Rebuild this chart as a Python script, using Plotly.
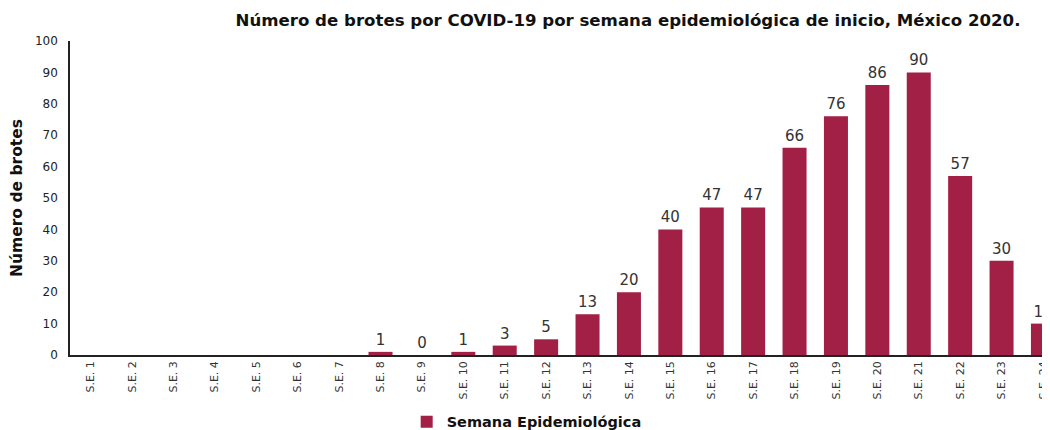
import plotly.graph_objects as go

semanas = [f"S.E. {i}" for i in range(1, 25)]
brotes = [None, None, None, None, None, None, None, 1, 0, 1, 3, 5, 13, 20, 40, 47, 47, 66, 76, 86, 90, 57, 30, 10]
etiquetas = ["" if v is None else str(v) for v in brotes]

FONT = "DejaVu Sans"
COLOR = "#A21F45"

fig = go.Figure()
fig.add_trace(go.Bar(
    x=semanas, y=[0 if v is None else v for v in brotes],
    name="Semana Epidemiológica",
    marker=dict(color=COLOR, line=dict(width=0)),
    text=etiquetas, textposition="outside", cliponaxis=False,
    textfont=dict(family=FONT, size=15, color="#333333"),
))

# page has an 8px body margin, so the figure is sized to fill the window exactly
fig.update_layout(
    width=1042, height=422,
    margin=dict(l=62, r=0, t=33, b=75, autoexpand=False),
    paper_bgcolor="white", plot_bgcolor="white",
    bargap=0.42,
    font=dict(family=FONT, color="#222222"),
    title=dict(text="<b>Número de brotes por COVID-19 por semana epidemiológica de inicio, México 2020.</b>",
               x=0.595, xanchor="center", y=0.972, yanchor="middle",
               font=dict(family=FONT, size=16.6, color="#111111")),
    showlegend=True,
    legend=dict(orientation="h", x=0.466, xanchor="center", y=-0.213, yanchor="middle",
                font=dict(family=FONT, size=14.5, color="#111111", weight="bold"),
                itemwidth=30),
    xaxis=dict(range=[-0.5, 23.17], showline=True, linecolor="#222222", linewidth=1.5,
               tickangle=-90, tickfont=dict(family=FONT, size=11, color="#333333"),
               ticks="", showgrid=False, automargin=False),
    yaxis=dict(range=[0, 100], dtick=10, showline=True, linecolor="#222222", linewidth=1.5,
               showgrid=False, zeroline=False, ticks="", automargin=False,
               ticklabelstandoff=8,
               tickfont=dict(family=FONT, size=12, color="#222222"),
               title=dict(text="<b>Número de brotes</b>", standoff=12,
                          font=dict(family=FONT, size=15.5, color="#111111"))),
)

fig.write_html("out.html")
